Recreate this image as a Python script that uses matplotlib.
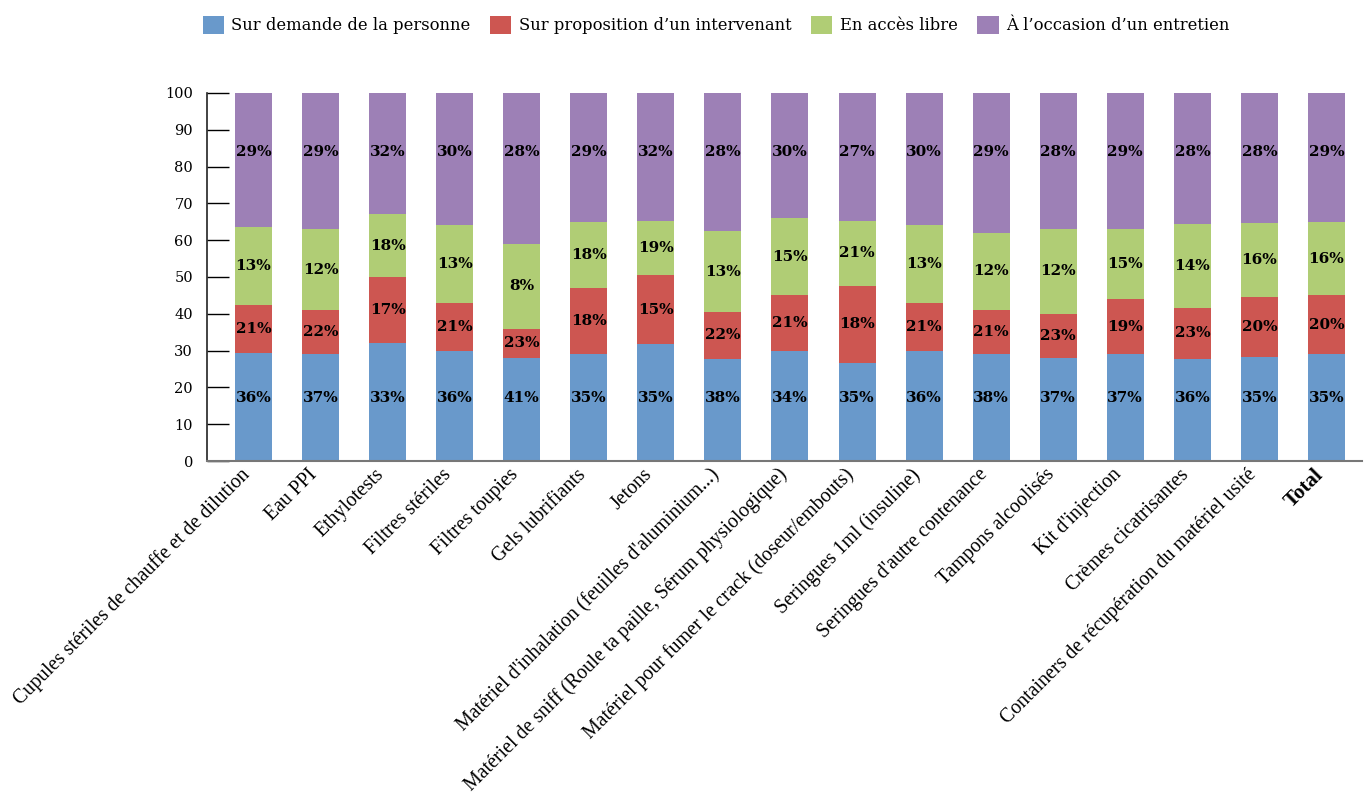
import matplotlib
matplotlib.use("Agg")
import matplotlib.pyplot as plt
import matplotlib.transforms as mtransforms
import numpy as np

categories = [
    "Cupules stériles de chauffe et de dilution",
    "Eau PPI",
    "Ethylotests",
    "Filtres stériles",
    "Filtres toupies",
    "Gels lubrifiants",
    "Jetons",
    "Matériel d'inhalation (feuilles d'aluminium...)",
    "Matériel de sniff (Roule ta paille, Sérum physiologique)",
    "Matériel pour fumer le crack (doseur/embouts)",
    "Seringues 1ml (insuline)",
    "Seringues d'autre contenance",
    "Tampons alcoolisés",
    "Kit d'injection",
    "Crèmes cicatrisantes",
    "Containers de récupération du matériel usité",
    "Total",
]

series_names = ["Sur demande de la personne", "Sur proposition d\u2019un intervenant",
                "En accès libre", "À l\u2019occasion d\u2019un entretien"]

# segment heights as drawn
demande = [29, 29, 32, 30, 28, 29, 32, 28, 30, 27, 30, 29, 28, 29, 28, 28, 29]
proposition = [13, 12, 18, 13, 8, 18, 19, 13, 15, 21, 13, 12, 12, 15, 14, 16, 16]
acces_libre = [21, 22, 17, 21, 23, 18, 15, 22, 21, 18, 21, 21, 23, 19, 23, 20, 20]
entretien = [36, 37, 33, 36, 41, 35, 35, 38, 34, 35, 36, 38, 37, 37, 36, 35, 35]

# percentage labels as printed in each segment
lab_demande = [36, 37, 33, 36, 41, 35, 35, 38, 34, 35, 36, 38, 37, 37, 36, 35, 35]
lab_proposition = [21, 22, 17, 21, 23, 18, 15, 22, 21, 18, 21, 21, 23, 19, 23, 20, 20]
lab_acces_libre = [13, 12, 18, 13, 8, 18, 19, 13, 15, 21, 13, 12, 12, 15, 14, 16, 16]
lab_entretien = [29, 29, 32, 30, 28, 29, 32, 28, 30, 27, 30, 29, 28, 29, 28, 28, 29]

yticks = [0, 10, 20, 30, 40, 50, 60, 70, 80, 90, 100]

colors = ["#6999CB", "#CD5651", "#B0CD75", "#9D80B6"]

data = np.array([demande, proposition, acces_libre, entretien], dtype=float)
data = data / data.sum(axis=0) * 100.0
labels = [lab_demande, lab_proposition, lab_acces_libre, lab_entretien]

fig = plt.figure(figsize=(13.65, 7.98), dpi=100)
ax = fig.add_axes([207 / 1365, 1 - 461 / 798, (1362 - 207) / 1365, (461 - 93) / 798])

x = np.arange(len(categories))
width = 0.552
bottom = np.zeros(len(categories))
handles = []
for i in range(4):
    b = ax.bar(x, data[i], width, bottom=bottom, color=colors[i], label=series_names[i], linewidth=0)
    handles.append(b)
    for j in range(len(categories)):
        if i == 0:
            yc = 17.0
        elif i == 3:
            yc = 84.0
        else:
            yc = bottom[j] + data[i][j] / 2
        ax.text(x[j], yc, f"{labels[i][j]}%", ha="center", va="center",
                fontsize=11, fontweight="bold", family="DejaVu Serif", color="black")
    bottom += data[i]

ax.set_xlim(-0.693, 16.53)
ax.set_ylim(0, 100)
ax.set_yticks(yticks)
ax.set_yticklabels([str(v) for v in yticks], family="DejaVu Serif", fontsize=10.5)
ax.tick_params(axis="y", direction="in", length=16, width=1, pad=10, color="black")
ax.set_xticks(x)
ax.tick_params(axis="x", length=0, pad=8)
ax.set_xticklabels(categories, rotation=45, ha="right", va="center", rotation_mode="anchor",
                   family="Liberation Serif", fontsize=14.3)
shift = mtransforms.ScaledTranslation(-6 / 100, 0, fig.dpi_scale_trans)
for lbl in ax.get_xticklabels():
    lbl.set_transform(lbl.get_transform() + shift)
ax.get_xticklabels()[-1].set_fontweight("bold")
ax.get_xticklabels()[-1].set_fontsize(15)

for s in ["top", "right"]:
    ax.spines[s].set_visible(False)
ax.spines["left"].set_color("#222222")
ax.spines["left"].set_linewidth(1.2)
ax.spines["bottom"].set_color("#777777")
ax.spines["bottom"].set_linewidth(1.5)

fig.legend(handles=handles, labels=series_names, loc="center", bbox_to_anchor=(716 / 1365, 1 - 25 / 798),
           ncol=4, frameon=False, prop={"family": "DejaVu Serif", "size": 11.8},
           handlelength=1.3, handleheight=1.3, handletextpad=0.45, columnspacing=1.2,
           borderaxespad=0, borderpad=0)

fig.savefig("out.png", dpi=100)
